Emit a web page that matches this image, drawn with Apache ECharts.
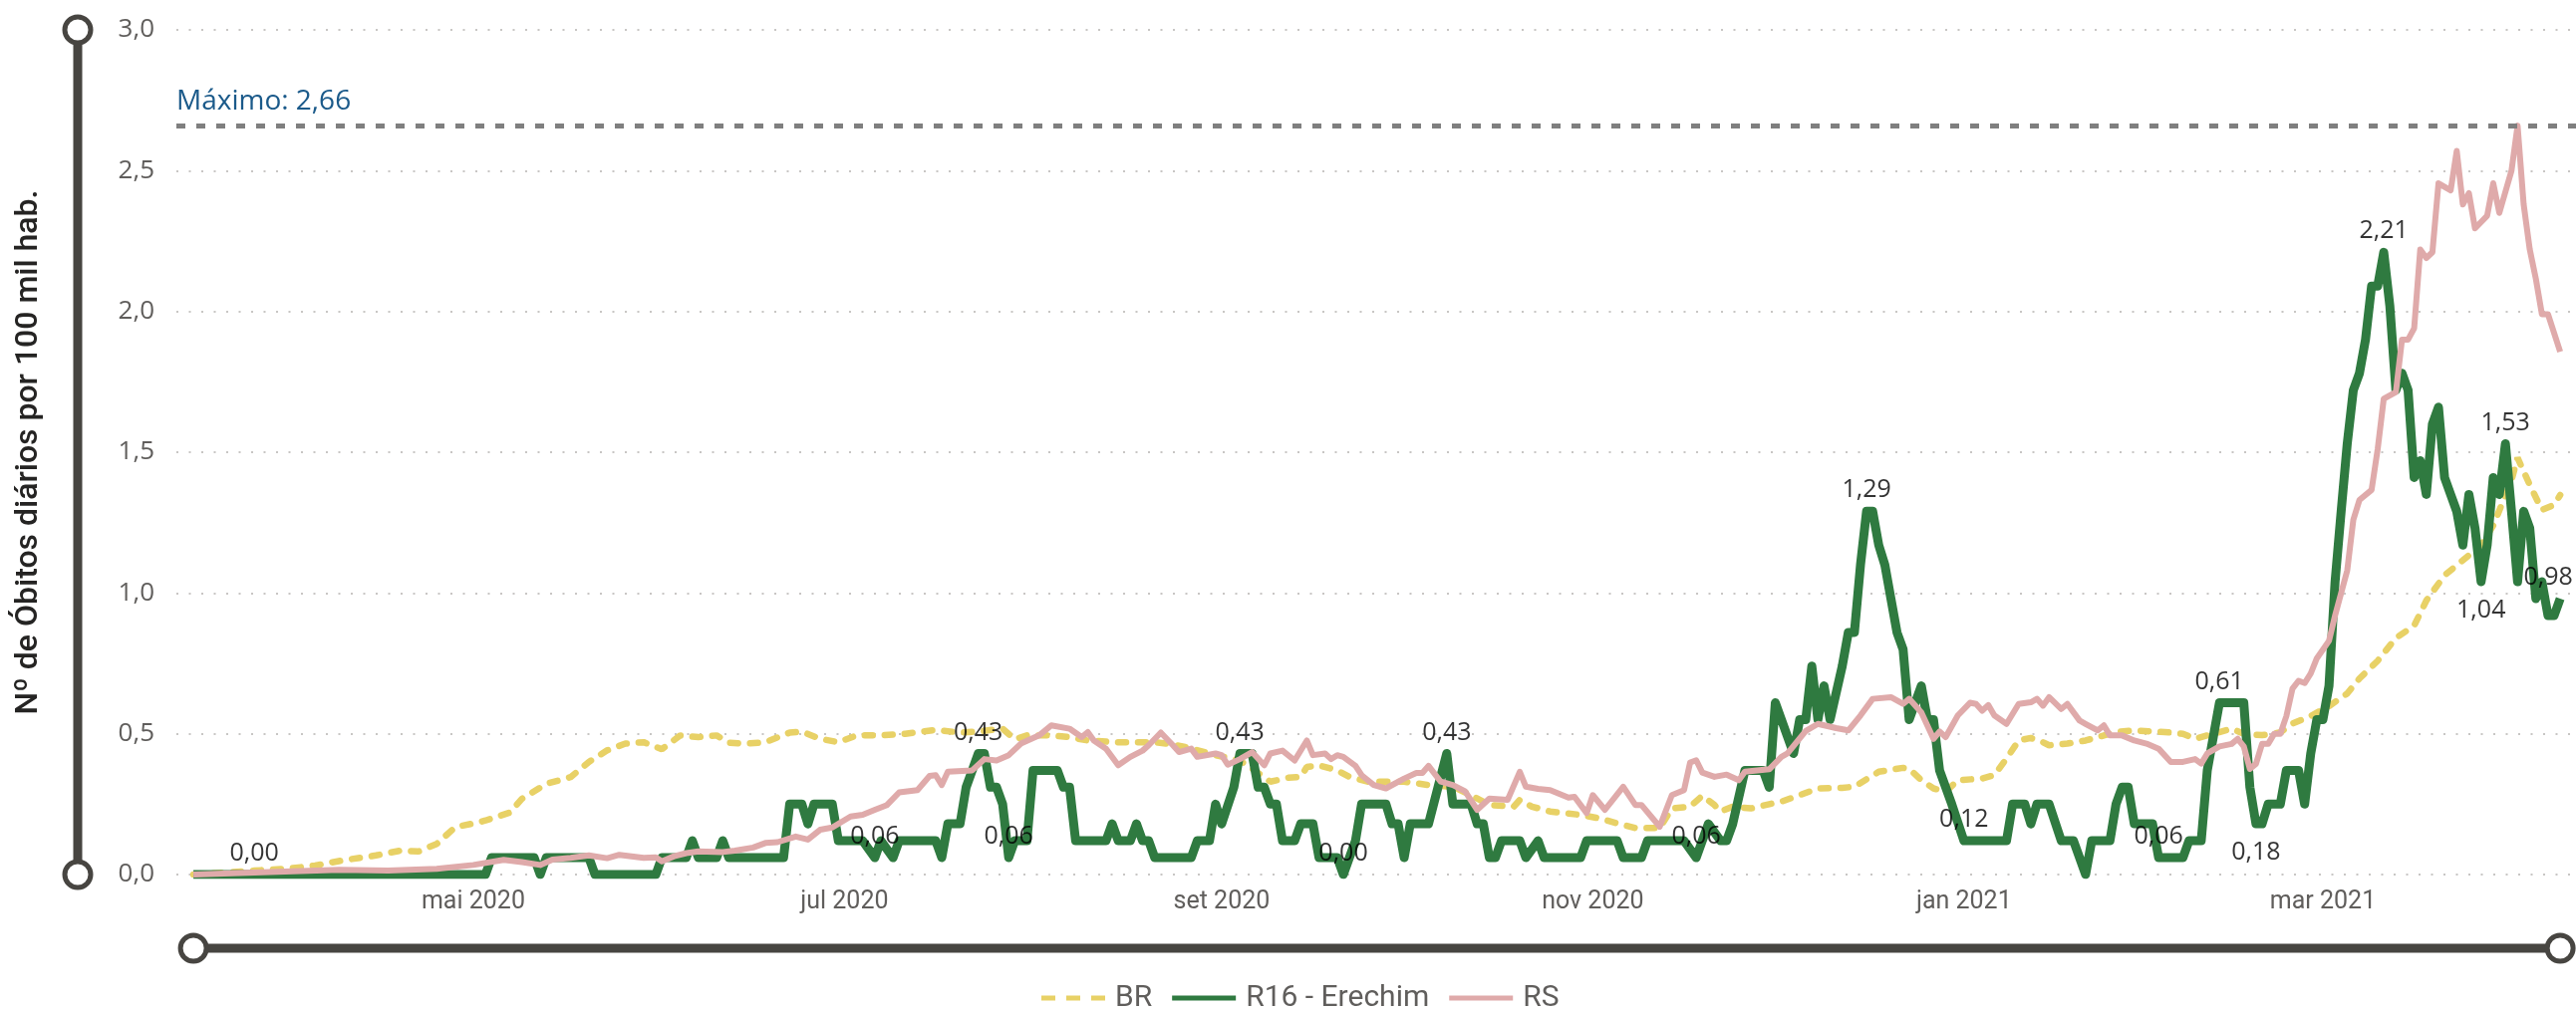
<!DOCTYPE html>
<html><head><meta charset="utf-8">
<script src="https://cdn.jsdelivr.net/npm/echarts/dist/echarts.min.js"></script>
<style>html,body{margin:0;padding:0;background:#fff;}#c{width:2585px;height:1014px;}</style>
</head><body><div id="c"></div>
<script>
// ---------- DATA ----------
const START_DATE = '2020-03-16';            // day 0 of the series
const seriesNames = ['BR', 'R16 - Erechim', 'RS'];
const monthTickDates = ['2020-05-01','2020-07-01','2020-09-01','2020-11-01','2021-01-01','2021-03-01'];
const monthTickLabels = ['mai 2020','jul 2020','set 2020','nov 2020','jan 2021','mar 2021'];
const yAxisTitle = 'Nº de Óbitos diários por 100 mil hab.';
const maxLabelPrefix = 'Máximo: ';

// [day since START_DATE, value]
const brPoints = [[0,0],[10,0.014],[16,0.022],[20,0.032],[25,0.052],[30,0.068],[34,0.085],[37,0.082],[40,0.109],[43,0.168],
[47,0.186],[48,0.192],[52,0.22],[54,0.269],[58,0.322],[62,0.346],[65,0.40],[68,0.441],[71,0.465],[74,0.47],
[77,0.445],[80,0.494],[83,0.488],[86,0.494],[88,0.468],[91,0.465],[94,0.47],[98,0.504],[100,0.508],[103,0.482],
[106,0.47],[109,0.494],[113,0.494],[117,0.50],[122,0.514],[126,0.504],[129,0.508],[133,0.518],[135,0.48],[137,0.494],
[141,0.494],[144,0.488],[147,0.476],[152,0.47],[158,0.47],[160,0.465],[163,0.453],[168,0.424],[172,0.405],[174,0.376],
[177,0.33],[180,0.344],[182,0.347],[183,0.382],[185,0.388],[188,0.37],[190,0.347],[193,0.33],[199,0.33],[203,0.318],
[207,0.312],[210,0.282],[213,0.247],[217,0.241],[218,0.265],[220,0.241],[223,0.224],[228,0.212],[231,0.20],[234,0.182],
[237,0.165],[241,0.165],[243,0.235],[246,0.241],[248,0.28],[250,0.247],[251,0.224],[253,0.241],[256,0.235],[259,0.25],
[261,0.259],[264,0.282],[267,0.306],[271,0.308],[273,0.312],[277,0.365],[281,0.379],[282,0.376],[284,0.335],[286,0.306],
[288,0.294],[290,0.335],[294,0.341],[296,0.353],[298,0.412],[300,0.476],[302,0.485],[304,0.47],[305,0.459],[308,0.465],
[311,0.476],[314,0.494],[316,0.506],[319,0.512],[322,0.508],[324,0.506],[327,0.50],[329,0.482],[332,0.50],[335,0.518],
[337,0.50],[340,0.495],[343,0.505],[345,0.536],[348,0.563],[351,0.598],[354,0.643],[356,0.696],[359,0.759],[362,0.84],
[365,0.884],[367,0.973],[370,1.063],[373,1.116],[376,1.17],[378,1.24],[381,1.40],[382,1.48],[384,1.384],[386,1.295],
[388,1.313],[389,1.348]];

const r16Points = [[0,0],[10,0],[48,0],[49,0.06],[56,0.06],[57,0],[58,0.06],[65,0.06],[66,0],[76,0],[77,0.06],[81,0.06],[82,0.12],[83,0.06],[86,0.06],[87,0.12],[88,0.06],[97,0.06],[98,0.25],[100,0.25],[101,0.18],[102,0.25],[105,0.25],[106,0.12],[110,0.12],[112,0.06],[113,0.12],[115,0.06],[116,0.12],[122,0.12],[123,0.06],[124,0.18],[126,0.18],[127,0.31],[128,0.37],[129,0.43],[130,0.43],[131,0.31],[132,0.31],[133,0.25],[134,0.06],[135,0.12],[137,0.12],[138,0.37],[142,0.37],[143,0.31],[144,0.31],[145,0.12],[150,0.12],[151,0.18],[152,0.12],[154,0.12],[155,0.18],[156,0.12],[157,0.12],[158,0.06],[164,0.06],[165,0.12],[167,0.12],[168,0.25],[169,0.18],[171,0.31],[172,0.43],[174,0.43],[175,0.31],[176,0.31],[177,0.25],[178,0.25],[179,0.12],[181,0.12],[182,0.18],[184,0.18],[185,0.06],[188,0.06],[189,0],[190,0.06],[191,0.12],[192,0.25],[196,0.25],[197,0.18],[198,0.18],[199,0.06],[200,0.18],[203,0.18],[206,0.43],[207,0.25],[210,0.25],[211,0.18],[212,0.18],[213,0.06],[214,0.06],[215,0.12],[218,0.12],[219,0.06],[221,0.12],[222,0.06],[228,0.06],[229,0.12],[234,0.12],[235,0.06],[238,0.06],[239,0.12],[245,0.12],[247,0.06],[248,0.12],[249,0.18],[251,0.12],[252,0.12],[253,0.18],[255,0.37],[258,0.37],[259,0.31],[260,0.61],[263,0.43],[264,0.55],[265,0.55],[266,0.74],[267,0.55],[268,0.67],[269,0.55],[271,0.74],[272,0.86],[273,0.86],[274,1.10],[275,1.29],[276,1.29],[277,1.17],[278,1.10],[279,0.98],[280,0.86],[281,0.80],[282,0.55],[283,0.61],[284,0.67],[285,0.55],[286,0.55],[287,0.37],[289,0.25],[291,0.12],[298,0.12],[299,0.25],[301,0.25],[302,0.18],[303,0.25],[305,0.25],[307,0.12],[309,0.12],[311,0],[312,0.12],[315,0.12],[316,0.25],[317,0.31],[318,0.31],[319,0.18],[322,0.18],[323,0.06],[327,0.06],[328,0.12],[330,0.12],[331,0.37],[333,0.61],[337,0.61],[338,0.31],[339,0.18],[340,0.18],[341,0.25],[343,0.25],[344,0.37],[346,0.37],[347,0.25],[348,0.43],[349,0.55],[350,0.55],[351,0.67],[352,1.04],[353,1.29],[354,1.53],[355,1.72],[356,1.78],[357,1.90],[358,2.09],[359,2.09],[360,2.21],[361,2.02],[362,1.72],[363,1.78],[364,1.72],[365,1.41],[366,1.47],[367,1.35],[368,1.60],[369,1.66],[370,1.41],[371,1.35],[372,1.29],[373,1.17],[374,1.35],[375,1.23],[376,1.04],[377,1.17],[378,1.41],[379,1.35],[380,1.53],[381,1.29],[382,1.04],[383,1.29],[384,1.23],[385,0.98],[386,1.04],[387,0.92],[388,0.92],[389,0.98]];

const rsPoints = [[0,0],[10,0.007],[24,0.017],[32,0.014],[40,0.02],[46,0.034],[51,0.052],[54,0.044],[57,0.034],[59,0.053],[62,0.059],[65,0.068],[68,0.058],[70,0.07],[74,0.059],[76,0.061],[77,0.047],[79,0.065],[81,0.076],[83,0.082],[87,0.08],[89,0.085],[92,0.096],[94,0.112],[96,0.115],[99,0.135],[101,0.124],[103,0.159],[105,0.167],[108,0.206],[110,0.212],[112,0.23],[114,0.247],[116,0.292],[119,0.30],[121,0.35],[122,0.353],[123,0.318],[124,0.365],[128,0.37],[130,0.41],[132,0.405],[134,0.424],[136,0.465],[139,0.494],[141,0.53],[144,0.518],[146,0.488],[147,0.506],[148,0.476],[150,0.447],[152,0.388],[154,0.418],[156,0.44],[157,0.459],[159,0.504],[161,0.459],[162,0.435],[164,0.447],[165,0.418],[168,0.43],[169,0.424],[170,0.39],[172,0.41],[174,0.435],[176,0.388],[177,0.43],[179,0.44],[181,0.405],[183,0.476],[184,0.424],[186,0.43],[187,0.41],[188,0.424],[189,0.418],[191,0.386],[192,0.353],[194,0.318],[196,0.306],[199,0.341],[201,0.361],[202,0.361],[203,0.386],[205,0.33],[207,0.318],[209,0.296],[211,0.23],[213,0.27],[216,0.265],[218,0.365],[219,0.312],[221,0.304],[223,0.30],[226,0.273],[227,0.276],[229,0.218],[230,0.282],[232,0.23],[235,0.312],[237,0.247],[238,0.247],[241,0.17],[243,0.282],[245,0.30],[246,0.398],[247,0.406],[248,0.362],[250,0.347],[252,0.355],[254,0.335],[255,0.365],[259,0.374],[261,0.418],[262,0.43],[265,0.51],[267,0.535],[270,0.52],[272,0.512],[274,0.565],[276,0.624],[279,0.63],[281,0.606],[282,0.624],[284,0.576],[286,0.482],[287,0.508],[288,0.488],[290,0.565],[292,0.61],[293,0.606],[294,0.582],[295,0.602],[296,0.565],[298,0.535],[300,0.606],[302,0.612],[303,0.624],[304,0.60],[305,0.63],[307,0.588],[308,0.606],[310,0.547],[311,0.535],[313,0.512],[314,0.53],[315,0.494],[317,0.494],[319,0.476],[321,0.465],[323,0.447],[325,0.40],[327,0.40],[329,0.41],[330,0.394],[331,0.43],[333,0.455],[335,0.464],[336,0.482],[337,0.455],[338,0.375],[339,0.393],[340,0.464],[341,0.464],[342,0.50],[343,0.50],[344,0.563],[345,0.66],[346,0.688],[347,0.68],[348,0.714],[349,0.768],[351,0.83],[352,0.92],[354,1.08],[355,1.26],[356,1.33],[358,1.366],[359,1.51],[360,1.69],[362,1.714],[363,1.90],[364,1.90],[365,1.94],[366,2.22],[367,2.19],[368,2.21],[369,2.455],[371,2.43],[372,2.57],[373,2.38],[374,2.42],[375,2.295],[377,2.34],[378,2.455],[379,2.35],[381,2.50],[382,2.66],[383,2.38],[384,2.22],[385,2.116],[386,1.99],[387,1.99],[389,1.857]];

// days of R16 that carry a data label, and which of them sit below the line
const r16LabelDays = [10,112,129,134,172,189,206,247,275,291,323,333,339,360,376,380,389];
const r16LabelBelowDays = [339,376];

// ---------- CHART ----------
const DAY = 86400000;
const t0 = Date.parse(START_DATE + 'T00:00:00Z');
const ts = d => t0 + d * DAY;
const toSeries = pts => pts.map(p => [ts(p[0]), p[1]]);
const fmt2 = v => v.toFixed(2).replace('.', ',');
const tickTs = monthTickDates.map(s => Date.parse(s + 'T00:00:00Z'));

const NUM_FONT = '"Segoe UI","Open Sans","Noto Sans",sans-serif';
const DIN_FONT = 'Roboto,"Noto Sans",sans-serif';
const C_BR = '#E8D166', C_R16 = '#2F7A40', C_RS = '#DFAAAA', C_DECO = '#474541';

const r16Map = new Map(r16Points.map(p => [p[0], p[1]]));
const labelData = r16LabelDays.map(d => {
  const below = r16LabelBelowDays.includes(d);
  const isLast = d === r16Points[r16Points.length - 1][0];
  return {
    value: [ts(d), r16Map.get(d)],
    label: { position: below ? 'bottom' : 'top', distance: below ? 16 : 8, offset: isLast ? [-12, 0] : [0, 0] }
  };
});

// legend icons (dashed / solid strokes)
const ICON_DASH = 'path://M0,0h14v5h-14z M25,0h14v5h-14z M50,0h14v5h-14z';
const ICON_SOLID = 'path://M0,0h64v5h-64z';

const chart = echarts.init(document.getElementById('c'), null, { renderer: 'canvas' });
const option = {
  animation: false,
  backgroundColor: '#ffffff',
  grid: { left: 177, right: 0, top: 30, bottom: 136, containLabel: false },
  legend: {
    data: [
      { name: seriesNames[0], icon: ICON_DASH, itemStyle: { color: C_BR } },
      { name: seriesNames[1], icon: ICON_SOLID, itemStyle: { color: C_R16 } },
      { name: seriesNames[2], icon: ICON_SOLID, itemStyle: { color: C_RS } }
    ],
    left: 1040, top: 982,
    itemWidth: 64, itemHeight: 5, itemGap: 20,
    textStyle: { fontSize: 30, color: '#605E5C', fontFamily: DIN_FONT, padding: [0, 0, 0, 5] }
  },
  xAxis: {
    type: 'value',
    min: ts(-2.8), max: ts(391.6),
    axisLine: { show: false }, axisTick: { show: false }, splitLine: { show: false },
    axisLabel: {
      customValues: tickTs,
      formatter: v => { const i = tickTs.indexOf(v); return i >= 0 ? monthTickLabels[i] : ''; },
      color: '#605E5C', fontSize: 25, fontFamily: DIN_FONT, margin: 15
    }
  },
  yAxis: {
    type: 'value', min: 0, max: 3, interval: 0.5,
    axisLine: { show: false }, axisTick: { show: false },
    splitLine: { show: true, lineStyle: { type: [2, 10.5], color: '#C8C6C4', width: 2 } },
    axisLabel: { formatter: v => v.toFixed(1).replace('.', ','), color: '#605E5C', fontSize: 26, fontFamily: NUM_FONT, margin: 22 },
    name: yAxisTitle, nameLocation: 'middle', nameRotate: 90, nameGap: 132,
    nameTextStyle: { fontSize: 32, color: '#252423', fontFamily: DIN_FONT, fontWeight: 500 }
  },
  series: [
    { name: seriesNames[0], type: 'line', data: toSeries(brPoints), symbol: 'none', z: 2,
      lineStyle: { color: C_BR, width: 6.5, type: [8, 12], cap: 'round' }, itemStyle: { color: C_BR } },
    { name: seriesNames[1], type: 'line', data: toSeries(r16Points), symbol: 'none', z: 3,
      lineStyle: { color: C_R16, width: 9, join: 'round' }, itemStyle: { color: C_R16 } },
    { name: seriesNames[2], type: 'line', data: toSeries(rsPoints), symbol: 'none', z: 4,
      lineStyle: { color: C_RS, width: 6, join: 'round' }, itemStyle: { color: C_RS },
      markLine: {
        silent: true, symbol: 'none', animation: false,
        data: [{ type: 'max', name: 'max' }],
        lineStyle: { color: '#7F7F7F', width: 5, type: [9, 11] },
        label: { position: 'insideStartTop', formatter: p => maxLabelPrefix + fmt2(p.value),
                 color: '#1B5A8A', fontSize: 28, fontFamily: NUM_FONT, distance: [0, 10] },
        emphasis: { disabled: true }
      } },
    { name: 'r16-labels', type: 'scatter', data: labelData, symbolSize: 1, z: 10, silent: true,
      itemStyle: { color: 'rgba(0,0,0,0)' },
      label: { show: true, formatter: p => fmt2(p.value[1]), color: '#000000', fontSize: 25, fontFamily: NUM_FONT } }
  ]
};
chart.setOption(option);

// decorative handles bound to the axis extents
const pTop = chart.convertToPixel({ gridIndex: 0 }, [ts(0), 3]);
const pBot = chart.convertToPixel({ gridIndex: 0 }, [ts(0), 0]);
const pStart = chart.convertToPixel({ gridIndex: 0 }, [ts(r16Points[0][0]), 0]);
const pEnd = chart.convertToPixel({ gridIndex: 0 }, [ts(r16Points[r16Points.length - 1][0]), 0]);
const VX = 78, HY = 952, R = 13;
const handle = (cx, cy) => ({ type: 'circle', shape: { cx, cy, r: R }, style: { fill: '#fff', stroke: C_DECO, lineWidth: 5 }, z: 101 });
chart.setOption({
  graphic: [
    { type: 'line', shape: { x1: VX, y1: pTop[1], x2: VX, y2: pBot[1] }, style: { stroke: C_DECO, lineWidth: 9 }, z: 100 },
    { type: 'line', shape: { x1: pStart[0], y1: HY, x2: pEnd[0], y2: HY }, style: { stroke: C_DECO, lineWidth: 9 }, z: 100 },
    handle(VX, pTop[1]), handle(VX, pBot[1]), handle(pStart[0], HY), handle(pEnd[0], HY)
  ]
});
</script></body></html>
